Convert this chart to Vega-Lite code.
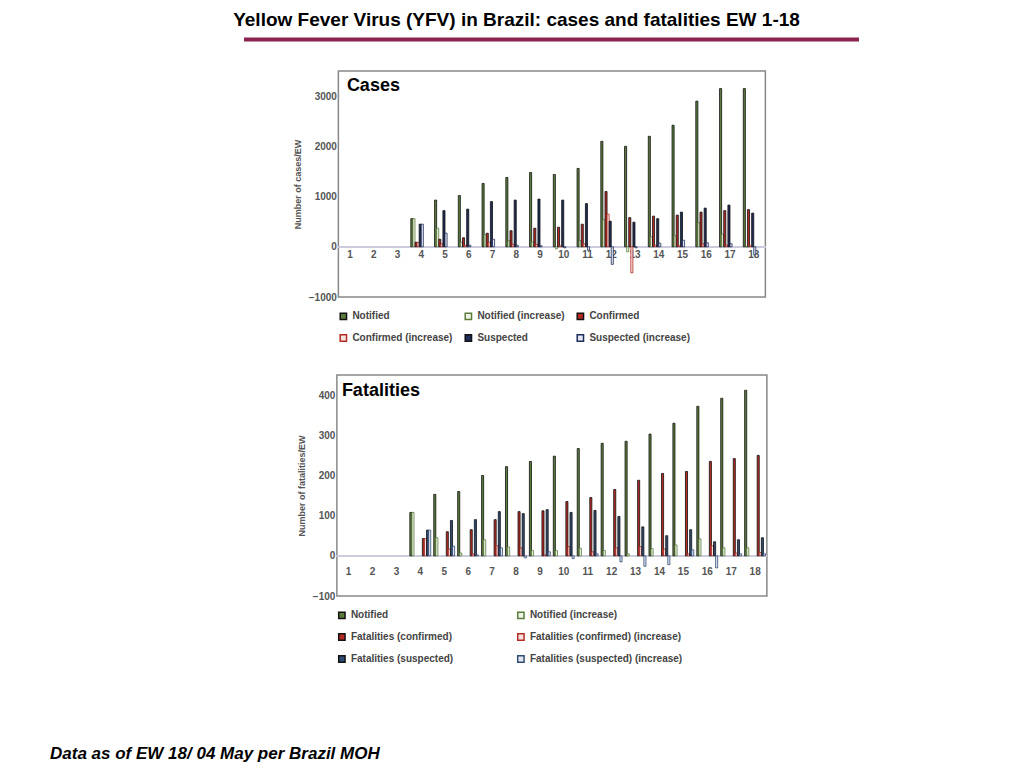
{
  "$schema": "https://vega.github.io/schema/vega-lite/v6.json",
  "background": "white",
  "padding": {"left": 50, "top": 10, "right": 10, "bottom": 5},
  "config": {
    "font": "Liberation Sans",
    "view": {"stroke": "#888", "strokeWidth": 1.5},
    "axis": {"grid": false, "labelFontWeight": "bold", "labelColor": "#555", "labelFontSize": 10, "titleFontSize": 9, "titleColor": "#555", "domain": false, "labelOverlap": false},
    "legend": {"labelFontSize": 10, "labelFontWeight": "bold", "labelColor": "#444", "symbolType": "square", "symbolSize": 40, "orient": "bottom", "title": null, "direction": "horizontal"}
  },
  "datasets": {
    "cases": [
      {"ew": 4, "Notified": 560, "Notified (increase)": 560, "Confirmed": 90, "Confirmed (increase)": 90, "Suspected": 450, "Suspected (increase)": 450},
      {"ew": 5, "Notified": 930, "Notified (increase)": 370, "Confirmed": 150, "Confirmed (increase)": 60, "Suspected": 720, "Suspected (increase)": 270},
      {"ew": 6, "Notified": 1020, "Notified (increase)": 90, "Confirmed": 180, "Confirmed (increase)": 30, "Suspected": 750, "Suspected (increase)": 30},
      {"ew": 7, "Notified": 1260, "Notified (increase)": 240, "Confirmed": 270, "Confirmed (increase)": 90, "Suspected": 900, "Suspected (increase)": 150},
      {"ew": 8, "Notified": 1380, "Notified (increase)": 120, "Confirmed": 320, "Confirmed (increase)": 50, "Suspected": 930, "Suspected (increase)": 30},
      {"ew": 9, "Notified": 1480, "Notified (increase)": 100, "Confirmed": 370, "Confirmed (increase)": 50, "Suspected": 950, "Suspected (increase)": 20},
      {"ew": 10, "Notified": 1440, "Notified (increase)": -40, "Confirmed": 390, "Confirmed (increase)": 20, "Suspected": 930, "Suspected (increase)": -20},
      {"ew": 11, "Notified": 1560, "Notified (increase)": 120, "Confirmed": 450, "Confirmed (increase)": 60, "Suspected": 860, "Suspected (increase)": -70},
      {"ew": 12, "Notified": 2100, "Notified (increase)": 540, "Confirmed": 1100, "Confirmed (increase)": 650, "Suspected": 510, "Suspected (increase)": -350},
      {"ew": 13, "Notified": 2000, "Notified (increase)": -100, "Confirmed": 580, "Confirmed (increase)": -520, "Suspected": 490, "Suspected (increase)": -20},
      {"ew": 14, "Notified": 2200, "Notified (increase)": 200, "Confirmed": 610, "Confirmed (increase)": 30, "Suspected": 560, "Suspected (increase)": 70},
      {"ew": 15, "Notified": 2420, "Notified (increase)": 220, "Confirmed": 630, "Confirmed (increase)": 20, "Suspected": 690, "Suspected (increase)": 130},
      {"ew": 16, "Notified": 2900, "Notified (increase)": 480, "Confirmed": 690, "Confirmed (increase)": 60, "Suspected": 770, "Suspected (increase)": 80},
      {"ew": 17, "Notified": 3150, "Notified (increase)": 250, "Confirmed": 720, "Confirmed (increase)": 30, "Suspected": 830, "Suspected (increase)": 60},
      {"ew": 18, "Notified": 3150, "Notified (increase)": 0, "Confirmed": 740, "Confirmed (increase)": 20, "Suspected": 670, "Suspected (increase)": -160}
    ],
    "deaths": [
      {"ew": 4, "Notified": 108, "Notified (increase)": 108, "Fatalities (confirmed)": 43, "Fatalities (confirmed) (increase)": 43, "Fatalities (suspected)": 64, "Fatalities (suspected) (increase)": 64},
      {"ew": 5, "Notified": 153, "Notified (increase)": 45, "Fatalities (confirmed)": 60, "Fatalities (confirmed) (increase)": 17, "Fatalities (suspected)": 88, "Fatalities (suspected) (increase)": 24},
      {"ew": 6, "Notified": 160, "Notified (increase)": 7, "Fatalities (confirmed)": 65, "Fatalities (confirmed) (increase)": 5, "Fatalities (suspected)": 90, "Fatalities (suspected) (increase)": 2},
      {"ew": 7, "Notified": 200, "Notified (increase)": 40, "Fatalities (confirmed)": 90, "Fatalities (confirmed) (increase)": 25, "Fatalities (suspected)": 110, "Fatalities (suspected) (increase)": 20},
      {"ew": 8, "Notified": 222, "Notified (increase)": 22, "Fatalities (confirmed)": 110, "Fatalities (confirmed) (increase)": 20, "Fatalities (suspected)": 105, "Fatalities (suspected) (increase)": -5},
      {"ew": 9, "Notified": 235, "Notified (increase)": 13, "Fatalities (confirmed)": 112, "Fatalities (confirmed) (increase)": 2, "Fatalities (suspected)": 115, "Fatalities (suspected) (increase)": 10},
      {"ew": 10, "Notified": 248, "Notified (increase)": 13, "Fatalities (confirmed)": 135, "Fatalities (confirmed) (increase)": 23, "Fatalities (suspected)": 108, "Fatalities (suspected) (increase)": -7},
      {"ew": 11, "Notified": 267, "Notified (increase)": 19, "Fatalities (confirmed)": 145, "Fatalities (confirmed) (increase)": 10, "Fatalities (suspected)": 113, "Fatalities (suspected) (increase)": 5},
      {"ew": 12, "Notified": 280, "Notified (increase)": 13, "Fatalities (confirmed)": 165, "Fatalities (confirmed) (increase)": 20, "Fatalities (suspected)": 98, "Fatalities (suspected) (increase)": -15},
      {"ew": 13, "Notified": 285, "Notified (increase)": 5, "Fatalities (confirmed)": 188, "Fatalities (confirmed) (increase)": 23, "Fatalities (suspected)": 72, "Fatalities (suspected) (increase)": -26},
      {"ew": 14, "Notified": 303, "Notified (increase)": 18, "Fatalities (confirmed)": 205, "Fatalities (confirmed) (increase)": 17, "Fatalities (suspected)": 50, "Fatalities (suspected) (increase)": -22},
      {"ew": 15, "Notified": 330, "Notified (increase)": 27, "Fatalities (confirmed)": 210, "Fatalities (confirmed) (increase)": 5, "Fatalities (suspected)": 65, "Fatalities (suspected) (increase)": 15},
      {"ew": 16, "Notified": 372, "Notified (increase)": 42, "Fatalities (confirmed)": 235, "Fatalities (confirmed) (increase)": 25, "Fatalities (suspected)": 35, "Fatalities (suspected) (increase)": -30},
      {"ew": 17, "Notified": 392, "Notified (increase)": 20, "Fatalities (confirmed)": 242, "Fatalities (confirmed) (increase)": 7, "Fatalities (suspected)": 40, "Fatalities (suspected) (increase)": 5},
      {"ew": 18, "Notified": 412, "Notified (increase)": 20, "Fatalities (confirmed)": 250, "Fatalities (confirmed) (increase)": 8, "Fatalities (suspected)": 45, "Fatalities (suspected) (increase)": 5}
    ],
    "one": [{"a": 0, "b": 1}]
  },
  "vconcat": [
    {
      "width": 615,
      "height": 1,
      "view": {"stroke": null},
      "title": {"text": "Yellow Fever Virus (YFV) in Brazil: cases and fatalities EW 1-18", "fontSize": 19, "fontWeight": "bold", "font": "Liberation Sans", "offset": 8, "anchor": "middle", "dx": -35},
      "data": {"name": "one"},
      "mark": {"type": "rule", "stroke": "#8a2350", "strokeWidth": 4},
      "encoding": {
        "x": {"field": "a", "type": "quantitative", "scale": {"domain": [0, 1]}, "axis": null},
        "x2": {"field": "b"}
      }
    },
    {
      "width": 427,
      "height": 226,
      "data": {"name": "cases"},
      "transform": [{"fold": ["Notified", "Notified (increase)", "Confirmed", "Confirmed (increase)", "Suspected", "Suspected (increase)"], "as": ["series", "value"]}],
      "layer": [
        {
          "mark": {"type": "rule", "color": "#ccd", "strokeWidth": 1},
          "encoding": {"y": {"datum": 0}}
        },
        {
          "mark": {"type": "bar", "strokeWidth": 0.8},
          "encoding": {
            "x": {"field": "ew", "type": "ordinal", "scale": {"domain": [1, 2, 3, 4, 5, 6, 7, 8, 9, 10, 11, 12, 13, 14, 15, 16, 17, 18], "paddingInner": 0.12, "paddingOuter": 0.05}, "axis": {"title": null, "labelAngle": 0, "offset": -52, "ticks": false, "labelPadding": 4}},
            "xOffset": {"field": "series", "scale": {"domain": ["Notified", "Notified (increase)", "Confirmed", "Confirmed (increase)", "Suspected", "Suspected (increase)"]}},
            "y": {"field": "value", "type": "quantitative", "scale": {"domain": [-1000, 3500], "nice": false}, "axis": {"title": "Number of cases/EW", "format": "d", "values": [-1000, -500, 0, 500, 1000, 1500, 2000, 2500, 3000, 3500], "ticks": false, "titlePadding": 6}},
            "fill": {"field": "series", "type": "nominal", "scale": {"domain": ["Notified", "Notified (increase)", "Confirmed", "Confirmed (increase)", "Suspected", "Suspected (increase)"], "range": ["#5b7d3b", "#eef2e6", "#b52a22", "#f6e4e2", "#1f2d5a", "#e4e7f0"]}, "legend": {"columns": 3, "columnPadding": 8, "offset": 14, "rowPadding": 8, "labelLimit": 200}},
            "stroke": {"field": "series", "type": "nominal", "scale": {"domain": ["Notified", "Notified (increase)", "Confirmed", "Confirmed (increase)", "Suspected", "Suspected (increase)"], "range": ["#111", "#5b7d3b", "#111", "#b52a22", "#111", "#1f2d5a"]}, "legend": {"columns": 3, "columnPadding": 8, "offset": 14, "rowPadding": 8, "labelLimit": 200}}
          }
        },
        {
          "data": {"values": [{"t": "Cases"}]},
          "mark": {"type": "text", "text": "Cases", "fontSize": 18, "fontWeight": "bold", "align": "left", "baseline": "top", "dx": -205, "dy": -107},
          "encoding": {}
        }
      ]
    },
    {
      "width": 430,
      "height": 221,
      "data": {"name": "deaths"},
      "transform": [{"fold": ["Notified", "Notified (increase)", "Fatalities (confirmed)", "Fatalities (confirmed) (increase)", "Fatalities (suspected)", "Fatalities (suspected) (increase)"], "as": ["series", "value"]}],
      "layer": [
        {
          "mark": {"type": "rule", "color": "#ccd", "strokeWidth": 1},
          "encoding": {"y": {"datum": 0}}
        },
        {
          "mark": {"type": "bar", "strokeWidth": 0.8},
          "encoding": {
            "x": {"field": "ew", "type": "ordinal", "scale": {"domain": [1, 2, 3, 4, 5, 6, 7, 8, 9, 10, 11, 12, 13, 14, 15, 16, 17, 18], "paddingInner": 0.12, "paddingOuter": 0.05}, "axis": {"title": null, "labelAngle": 0, "offset": -34, "ticks": false, "labelPadding": 4}},
            "xOffset": {"field": "series", "scale": {"domain": ["Notified", "Notified (increase)", "Fatalities (confirmed)", "Fatalities (confirmed) (increase)", "Fatalities (suspected)", "Fatalities (suspected) (increase)"]}},
            "y": {"field": "value", "type": "quantitative", "scale": {"domain": [-100, 450], "nice": false}, "axis": {"title": "Number of fatalities/EW", "format": "d", "values": [-100, -50, 0, 50, 100, 150, 200, 250, 300, 350, 400, 450], "ticks": false, "titlePadding": 6}},
            "fill": {"field": "series", "type": "nominal", "scale": {"domain": ["Notified", "Notified (increase)", "Fatalities (confirmed)", "Fatalities (confirmed) (increase)", "Fatalities (suspected)", "Fatalities (suspected) (increase)"], "range": ["#5b7d3b", "#eef2e6", "#b52a22", "#f6e4e2", "#2f4a74", "#e4e7f0"]}, "legend": {"columns": 2, "columnPadding": 60, "offset": 14, "rowPadding": 8, "labelLimit": 250}},
            "stroke": {"field": "series", "type": "nominal", "scale": {"domain": ["Notified", "Notified (increase)", "Fatalities (confirmed)", "Fatalities (confirmed) (increase)", "Fatalities (suspected)", "Fatalities (suspected) (increase)"], "range": ["#111", "#5b7d3b", "#111", "#b52a22", "#111", "#2f4a74"]}, "legend": {"columns": 2, "columnPadding": 60, "offset": 14, "rowPadding": 8, "labelLimit": 250}}
          }
        },
        {
          "data": {"values": [{"t": "Fatalities"}]},
          "mark": {"type": "text", "text": "Fatalities", "fontSize": 18, "fontWeight": "bold", "align": "left", "baseline": "top", "dx": -210, "dy": -104},
          "encoding": {}
        }
      ]
    },
    {
      "width": 615,
      "height": 1,
      "view": {"stroke": null},
      "title": {"text": "Data as of EW 18/  04 May per Brazil MOH", "orient": "bottom", "anchor": "start", "dx": -195, "fontSize": 17, "fontWeight": "bold", "fontStyle": "italic", "offset": 50},
      "data": {"name": "one"},
      "mark": {"type": "rule", "strokeOpacity": 0},
      "encoding": {"x": {"field": "a", "type": "quantitative", "axis": null}}
    }
  ],
  "center": true,
  "spacing": 28,
  "resolve": {"scale": {"fill": "independent", "stroke": "independent"}}
}
